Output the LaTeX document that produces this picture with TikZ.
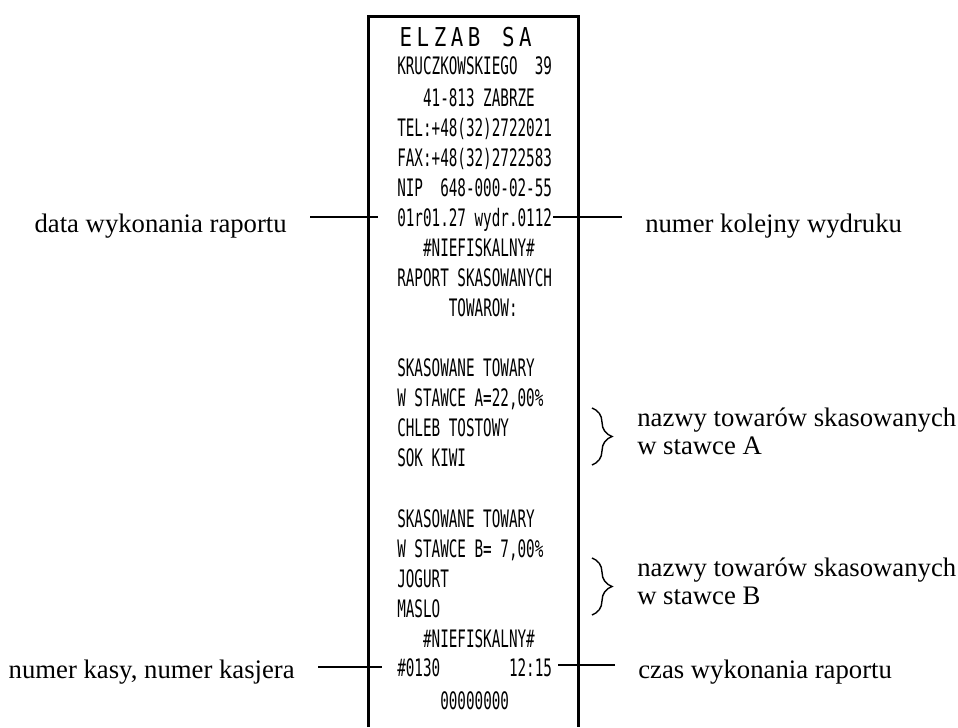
\documentclass[tikz,border=0pt]{standalone}
\usepackage{fontspec}
\setmainfont{Liberation Serif}
\newfontfamily\rcptfont[FakeStretch=0.594]{DejaVu Sans Mono}
\newfontfamily\headfont[FakeStretch=0.8]{DejaVu Sans Mono}
\usetikzlibrary{decorations.pathreplacing}

\colorlet{colorPaper}{black}
\colorlet{colorLead}{black}
\tikzset{
   every path/.style={line cap=butt},
   rc/.style={anchor=base west,inner sep=0pt,font=\rcptfont\fontsize{17.1pt}{17pt}\selectfont},
   hd/.style={anchor=base west,inner sep=0pt,font=\headfont\fontsize{18.5pt}{19pt}\selectfont},
   lbl/.style={inner sep=0pt,align=left,font=\fontsize{19pt}{19.9pt}\selectfont},
   paper/.style={color=colorPaper,line width=2.1pt},
   lead/.style={color=colorLead,line width=1.4pt,shorten <=0.575cm},
   grp/.style={decorate,decoration={brace,amplitude=0.5cm,aspect=0.5},line width=1pt},
 }
\newcommand{\dlead}[2]{\draw[lead] (#1.east |- #2) edge (#2)}
\newcommand{\dleadr}[2]{\draw[lead] (#1.west |- #2) edge (#2)}
\newcommand{\dbl}[1]{\makebox[12.16pt]{#1}}

\begin{document}
\begin{tikzpicture}[yscale=1,xscale=1]
      \useasboundingbox (0,0) rectangle (23.95,18.175);
      
      % paper strip, open at the bottom
      \draw[paper] (9.21,0) |- (14.46,17.76) -- (14.46,0);
      
      \node[hd] (RH) at (9.925,17.0) {\dbl{E}\dbl{L}\dbl{Z}\dbl{A}\dbl{B}\dbl{}\dbl{S}\dbl{A}};
      \node[rc] (R0) at (9.925,16.3) {KRUCZKOWSKIEGO~~39};
      \node[rc] (R1) at (9.925,15.5) {~~~41-813 ZABRZE};
      \node[rc] (R2) at (9.925,14.75) {TEL:+48(32)2722021};
      \node[rc] (R3) at (9.925,14.0) {FAX:+48(32)2722583};
      \node[rc] (R4) at (9.925,13.25) {NIP~~648-000-02-55};
      \node[rc] (R5) at (9.925,12.5) {01r01.27 wydr.0112};
      \node[rc] (R6) at (9.925,11.75) {~~~\#NIEFISKALNY\#};
      \node[rc] (R7) at (9.925,11.0) {RAPORT SKASOWANYCH};
      \node[rc] (R8) at (9.925,10.25) {~~~~~~TOWAROW:};
      
      \node[rc] (R10) at (9.925,8.75) {SKASOWANE TOWARY};
      \node[rc] (R11) at (9.925,8.0) {W STAWCE A=22,00\%};
      \node[rc] (R12) at (9.925,7.25) {CHLEB TOSTOWY};
      \node[rc] (R13) at (9.925,6.5) {SOK KIWI};
      
      \node[rc] (R15) at (9.925,5.0) {SKASOWANE TOWARY};
      \node[rc] (R16) at (9.925,4.25) {W STAWCE B=~7,00\%};
      \node[rc] (R17) at (9.925,3.5) {JOGURT};
      \node[rc] (R18) at (9.925,2.75) {MASLO};
      \node[rc] (R19) at (9.925,2.0) {~~~\#NIEFISKALNY\#};
      \node[rc] (R20) at (9.925,1.27) {\#0130~~~~~~~~12:15};
      \node[rc] (R21) at (9.925,0.45) {~~~~~00000000};
      
      % leaders
      \coordinate (cDate) at (9.45,12.75);
      \coordinate (cNum) at (13.825,12.75);
      \coordinate (cKasa) at (9.55,1.5);
      \coordinate (cCzas) at (13.95,1.55);
      
      \node[lbl,anchor=base east] (LDate) at (7.175,12.35) {data wykonania raportu};
      \dlead{LDate}{cDate};
      \node[lbl,anchor=base west] (LNum) at (16.125,12.35) {numer kolejny wydruku};
      \dleadr{LNum}{cNum};
      \node[lbl,anchor=base east] (LKasa) at (7.375,1.225) {numer kasy, numer kasjera};
      \dlead{LKasa}{cKasa};
      \node[lbl,anchor=base west] (LCzas) at (15.95,1.225) {czas wykonania raportu};
      \dleadr{LCzas}{cCzas};
      
      % groups of cancelled goods
      \coordinate (bA1) at (14.8,7.975);
      \coordinate (bA2) at (14.8,6.55);
      \draw[grp] (bA1) -- (bA2);
      \node[lbl,anchor=west] (LGrpA) at (15.925,7.4) {nazwy towarów skasowanych\\w stawce A};
      \coordinate (bB1) at (14.8,4.225);
      \coordinate (bB2) at (14.8,2.8);
      \draw[grp] (bB1) -- (bB2);
      \node[lbl,anchor=west] (LGrpB) at (15.925,3.65) {nazwy towarów skasowanych\\w stawce B};
    \end{tikzpicture}
\end{document}
